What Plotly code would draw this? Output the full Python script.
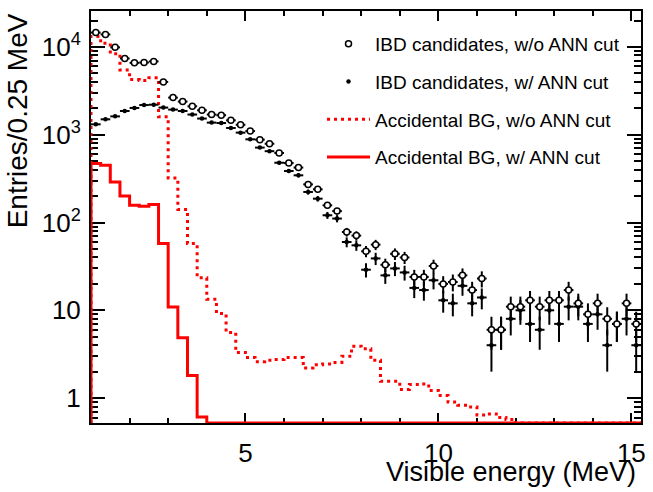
import numpy as np
import plotly.graph_objects as go

# Histogram binning: 0.25 MeV bins from 1.0 to 15.25 MeV
bin_width = 0.25
bin_edges = np.round(np.arange(1.0, 15.25 + 1e-9, bin_width), 3)
bin_centres = bin_edges[:-1] + bin_width / 2

# IBD candidates (entries per bin)
ibd_without_ann = [
    14600, 13900, 9900, 7400, 6600, 6650, 6850, 4000,
    2650, 2390, 2110, 1900, 1700, 1670, 1460, 1300,
    1100, 880, 790, 620, 476, 423, 272, 239,
    157, 135, 78, 71, 47, 56, 33, 44,
    40, 24, 24, 32, 20, 21, 25, 17,
    23, 6, 6, 11, 11, 13, 11, 13,
    13, 17, 12, 9, 12, 8, 7, 12,
    7,
]
ibd_with_ann = [
    1315, 1500, 1620, 1865, 2020, 2180, 2200, 2040,
    1935, 1865, 1700, 1530, 1375, 1360, 1195, 1057,
    887, 714, 650, 480, 386, 345, 223, 187,
    121, 111, 60, 55, 29, 39, 25, 30,
    27, 18, 17, 22, 13, 12, 19, 12,
    14, 4, 6, 8, 10, 7, 6, 10,
    7, 11, 11, 7, 9, 4, 7, 8,
    4,
]

# Accidental background estimates (entries per bin)
acc_without_ann = [
    13200, 11000, 8400, 5450, 4250, 4150, 4450, 1600,
    321, 141, 57.5, 23.5, 13.4, 9.2, 5.6, 3.3,
    2.9, 2.6, 2.7, 2.75, 2.9, 2.9, 2.2, 2.4,
    2.45, 2.55, 3.0, 3.9, 3.65, 2.7, 1.55, 1.55,
    1.25, 1.43, 1.45, 1.22, 1.07, 0.90, 0.83, 0.79,
    0.64, 0.66, 0.60, 0.57, 0, 0, 0, 0,
    0, 0, 0, 0, 0, 0, 0, 0,
    0,
]
acc_with_ann = [
    469, 449, 290, 200, 157, 153, 161, 57.5,
    10.9, 4.88, 1.81, 0.61, 0, 0, 0, 0,
    0, 0, 0, 0, 0, 0, 0, 0,
    0, 0, 0, 0, 0, 0, 0, 0,
    0, 0, 0, 0, 0, 0, 0, 0,
    0, 0, 0, 0, 0, 0, 0, 0,
    0, 0, 0, 0, 0, 0, 0, 0,
    0,
]

y_tick_vals = [1, 10, 100, 1000, 10000]
y_tick_text = ["1", "10", "10<sup>2</sup>", "10<sup>3</sup>", "10<sup>4</sup>"]
x_tick_vals = [5, 10, 15]

x_range = [1.0, 15.25]
y_range = [np.log10(0.52), 4.41]
y_floor = 10 ** y_range[0]  # empty bins sit on the frame, as in ROOT

FONT = "Liberation Sans, Arial, Helvetica, sans-serif"
RED = "#ff0000"


def step_outline(values):
    v = np.asarray(values, dtype=float)
    v = np.where(v > 0, v, y_floor)
    xs = np.concatenate([[bin_edges[0]], bin_edges])
    ys = np.concatenate([[y_floor], v, [v[-1]]])
    return xs, ys


fig = go.Figure()

xs, ys = step_outline(acc_without_ann)
fig.add_trace(go.Scatter(
    x=xs, y=ys, mode="lines", line=dict(shape="hv", color=RED, width=3, dash="3px,4px"),
    name="Accidental BG, w/o ANN cut", legendgroup="c", legendrank=3,
))
xs, ys = step_outline(acc_with_ann)
fig.add_trace(go.Scatter(
    x=xs, y=ys, mode="lines", line=dict(shape="hv", color=RED, width=3),
    name="Accidental BG, w/ ANN cut", legendgroup="d", legendrank=4,
))

fig.add_trace(go.Scatter(
    x=bin_centres, y=ibd_with_ann, mode="markers",
    marker=dict(symbol="circle", size=4.5, color="black"),
    error_y=dict(type="data", array=np.sqrt(ibd_with_ann), thickness=2, width=0, color="black"),
    error_x=dict(type="constant", value=bin_width / 2, thickness=2, width=0, color="black"),
    name="IBD candidates, w/ ANN cut", legendgroup="b", legendrank=2,
))
fig.add_trace(go.Scatter(
    x=bin_centres, y=ibd_without_ann, mode="markers",
    marker=dict(symbol="circle", size=6, color="white", line=dict(color="black", width=1.5)),
    error_y=dict(type="data", array=np.sqrt(ibd_without_ann), thickness=2, width=0, color="black"),
    error_x=dict(type="constant", value=bin_width / 2, thickness=2, width=0, color="black"),
    name="IBD candidates, w/o ANN cut", legendgroup="a", legendrank=1,
))

fig.update_layout(
    width=653, height=492,
    margin=dict(l=91, r=7, t=11, b=69),
    paper_bgcolor="white", plot_bgcolor="white",
    font=dict(family=FONT, color="black"),
    showlegend=True,
    legend=dict(
        x=0.42, y=0.966, xanchor="left", yanchor="top",
        font=dict(size=19, family=FONT, color="black"),
        bgcolor="rgba(0,0,0,0)", borderwidth=0,
        itemwidth=43, tracegroupgap=10, traceorder="grouped",
    ),
)

fig.update_xaxes(
    range=x_range, tickvals=x_tick_vals, ticks="inside", ticklen=10, tickwidth=1.5,
    tickcolor="black", showline=True, linecolor="black", linewidth=2, mirror="ticks",
    showgrid=False, zeroline=False, tickfont=dict(size=26, family=FONT),
    ticklabelstandoff=6,
    minor=dict(dtick=1, tick0=0, ticks="inside", ticklen=5, tickwidth=1.5, tickcolor="black"),
    layer="below traces",
)
fig.update_yaxes(
    type="log", range=y_range, tickvals=y_tick_vals, ticktext=y_tick_text,
    ticks="inside", ticklen=14, tickwidth=1.5, tickcolor="black",
    showline=True, linecolor="black", linewidth=2, mirror="ticks",
    showgrid=False, zeroline=False, tickfont=dict(size=26, family=FONT),
    ticklabelstandoff=3,
    minor=dict(tickvals=[k * 10 ** d for d in range(-1, 5) for k in range(2, 10)],
               ticks="inside", ticklen=7, tickwidth=1.5, tickcolor="black"),
    layer="below traces",
)

# Axis titles, ROOT style: aligned to the far end of each axis
fig.add_annotation(
    text="Visible energy (MeV)", xref="paper", yref="paper", x=0.995, y=-0.12,
    xanchor="right", yanchor="middle", showarrow=False, font=dict(size=27, family=FONT),
)
fig.add_annotation(
    text="Entries/0.25 MeV", xref="paper", yref="paper", x=-0.133, y=1.0,
    xanchor="center", yanchor="top", textangle=-90, showarrow=False,
    font=dict(size=28, family=FONT),
)

fig.write_html("out.html")
